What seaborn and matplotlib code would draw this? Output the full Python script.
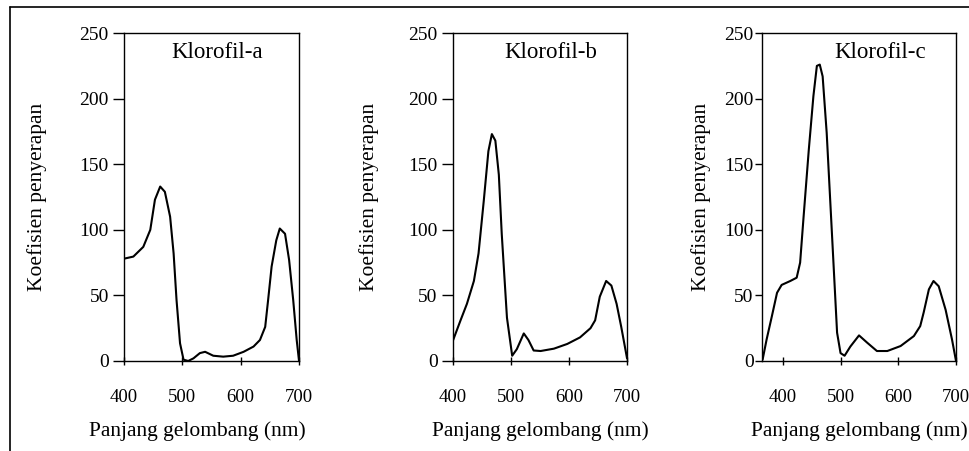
import matplotlib
matplotlib.use("Agg")
import matplotlib.pyplot as plt
import seaborn as sns
import pandas as pd
from matplotlib.lines import Line2D

# Klorofil-a
wl_a = [400, 416, 433, 445, 453, 462, 470, 479, 485, 490, 496, 502, 510, 519,
        530, 539, 553, 570, 587, 605, 622, 633, 642, 647, 653, 661, 667, 676,
        683, 690, 696, 700]
abs_a = [78, 79.6, 87, 100, 123, 133, 129, 110, 82, 46.5, 13.5, 1, 0, 2,
         6, 7, 4, 3.3, 4, 7, 11, 16, 26, 46.5, 72, 92, 101, 97,
         77, 46.5, 16, 0]

# Klorofil-b
wl_b = [400, 413, 424, 436, 444, 453, 461, 467, 473, 479, 484, 493, 502, 510,
        522, 530, 539, 551, 574, 597, 619, 637, 645, 653, 664, 673, 682, 690,
        700]
abs_b = [15.7, 31, 43.6, 61, 82, 122, 160, 173, 168, 142, 97, 33, 4, 9,
         21, 16, 8, 7.6, 9.4, 13, 18, 25, 31, 49, 61, 57.5, 43.6, 26,
         2]

# Klorofil-c
wl_c = [365, 372, 381, 390, 398, 413, 424, 430, 436, 445, 453, 459, 464, 469,
        476, 485, 494, 500, 507, 517, 532, 546, 563, 581, 604, 627, 638, 644,
        653, 661, 670, 682, 693, 700]
abs_c = [1, 16.5, 34, 52, 58, 61, 63.5, 75, 110, 161, 202, 225, 226, 217,
         174, 98, 21.6, 6, 4, 11, 19.5, 14, 7.6, 7.6, 11.4, 19, 26.6, 37,
         54.6, 61, 57, 39, 16.5, 0]

titles = ["Klorofil-a", "Klorofil-b", "Klorofil-c"]
xlabel = "Panjang gelombang (nm)"
ylabel = "Koefisien penyerapan"
y_ticks = [0, 50, 100, 150, 200, 250]
x_ticks = [400, 500, 600, 700]

sns.set_theme(style="white")
plt.rcParams['font.family'] = ['Liberation Serif', 'DejaVu Serif']

fig = plt.figure(figsize=(9.69, 4.51), dpi=100)

# (data, kiri, lebar, xmin, judul-x, ylabel-x, xlabel-x, panjang tick y, pad y)
panels = [
    (wl_a, abs_a, 0.128, 0.1806, 400, 0.53, -0.44, 0.42, 8, 3),
    (wl_b, abs_b, 0.4675, 0.1796, 400, 0.56, -0.425, 0.5, 8, 3),
    (wl_c, abs_c, 0.7864, 0.2002, 364, 0.61, -0.263, 0.5, 5, 1),
]

for (wl, ab, left, width, xmin, tx, lx, bx, tl, tp), title in zip(panels, titles):
    ax = fig.add_axes([left, 0.1996, width, 0.727])
    df = pd.DataFrame({"wl": wl, "abs": ab})
    sns.lineplot(data=df, x="wl", y="abs", ax=ax, color="black", linewidth=1.5)
    ax.set_xlim(xmin, 700)
    ax.set_ylim(0, 250)
    ax.set_xticks(x_ticks)
    ax.set_yticks(y_ticks)
    ax.tick_params(axis="y", direction="out", length=tl, width=1, labelsize=14,
                   colors="black", pad=tp, left=True)
    ax.tick_params(axis="x", direction="inout", length=6, width=1, labelsize=13.5,
                   colors="black", pad=17, bottom=True)
    for sp in ax.spines.values():
        sp.set_color("black")
        sp.set_linewidth(1.0)
    ax.set_xlabel(xlabel, fontsize=15.5, color="black")
    ax.xaxis.set_label_coords(bx, -0.185)
    ax.set_ylabel(ylabel, fontsize=15.5, color="black")
    ax.yaxis.set_label_coords(lx, 0.5)
    ax.text(tx, 0.94, title, transform=ax.transAxes, ha="center", va="center",
            fontsize=16.5, color="black")

# bingkai luar
fig.add_artist(Line2D([0.0103, 1.0], [0.9845, 0.9845], transform=fig.transFigure,
                      color="black", linewidth=1.2))
fig.add_artist(Line2D([0.0103, 0.0103], [0.0, 0.9845], transform=fig.transFigure,
                      color="black", linewidth=1.2))

fig.savefig("out.png", dpi=100)
